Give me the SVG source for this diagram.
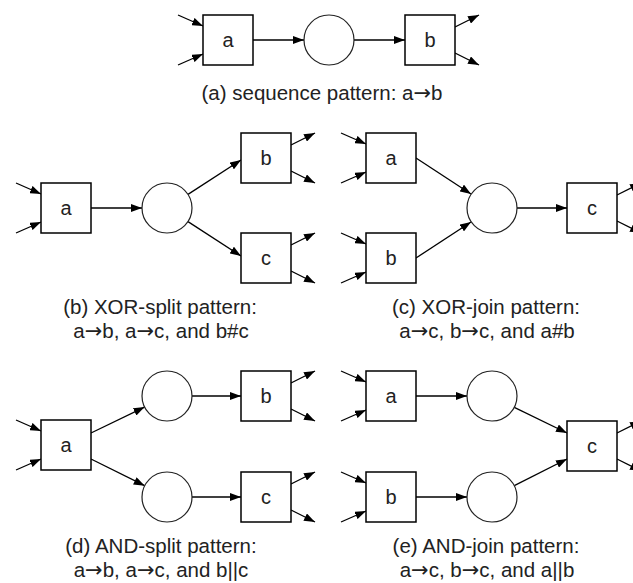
<svg xmlns="http://www.w3.org/2000/svg" width="633" height="583" viewBox="0 0 633 583">
<defs>
<marker id="ah" markerWidth="11" markerHeight="8" refX="11" refY="4" orient="auto" markerUnits="userSpaceOnUse">
<path d="M0,0 L11,4 L0,8 z" fill="#000"/>
</marker>
<style>
.box{fill:#fff;stroke:#000;stroke-width:1.5}
.place{fill:#fff;stroke:#222;stroke-width:1.2}
.lbl{font-family:"Liberation Sans",Arial,sans-serif;font-size:20px;fill:#222;text-anchor:middle}
.cap{font-family:"Liberation Sans",Arial,sans-serif;font-size:20.5px;fill:#222;text-anchor:middle}
.ar{font-family:"DejaVu Sans",sans-serif;font-size:21px}
#connectors line{stroke:#000;stroke-width:1.3;marker-end:url(#ah)}
</style>
</defs>
<rect width="633" height="583" fill="#fff"/>

<g id="connectors">
<!-- (a) -->
<line x1="178" y1="15" x2="203" y2="26"/>
<line x1="178" y1="65" x2="203" y2="54"/>
<line x1="253" y1="40" x2="304" y2="40"/>
<line x1="354" y1="40" x2="405" y2="40"/>
<line x1="455" y1="27" x2="479" y2="15"/>
<line x1="455" y1="53" x2="479" y2="65"/>
<!-- (b) -->
<line x1="16" y1="183" x2="41" y2="194"/>
<line x1="16" y1="233" x2="41" y2="222"/>
<line x1="91" y1="208" x2="142" y2="208"/>
<line x1="188" y1="194.4" x2="241" y2="160"/>
<line x1="188" y1="221.6" x2="241" y2="256"/>
<line x1="291" y1="145" x2="315" y2="133"/>
<line x1="291" y1="171" x2="315" y2="183"/>
<line x1="291" y1="245" x2="315" y2="233"/>
<line x1="291" y1="271" x2="315" y2="283"/>
<!-- (c) -->
<line x1="341" y1="133" x2="366" y2="144"/>
<line x1="341" y1="183" x2="366" y2="172"/>
<line x1="341" y1="233" x2="366" y2="244"/>
<line x1="341" y1="283" x2="366" y2="272"/>
<line x1="416" y1="158" x2="471" y2="194"/>
<line x1="416" y1="258" x2="471" y2="222"/>
<line x1="517" y1="208" x2="567" y2="208"/>
<line x1="617" y1="195" x2="641" y2="183"/>
<line x1="617" y1="221" x2="641" y2="233"/>
<!-- (d) -->
<line x1="16" y1="420" x2="41" y2="431"/>
<line x1="16" y1="470" x2="41" y2="459"/>
<line x1="91" y1="433" x2="144.6" y2="407.1"/>
<line x1="91" y1="459" x2="144.7" y2="485.7"/>
<line x1="192" y1="396" x2="241" y2="396"/>
<line x1="192" y1="497" x2="241" y2="497"/>
<line x1="291" y1="383" x2="315" y2="371"/>
<line x1="291" y1="409" x2="315" y2="421"/>
<line x1="291" y1="484" x2="315" y2="472"/>
<line x1="291" y1="510" x2="315" y2="522"/>
<!-- (e) -->
<line x1="341" y1="371" x2="366" y2="382"/>
<line x1="341" y1="421" x2="366" y2="410"/>
<line x1="341" y1="472" x2="366" y2="483"/>
<line x1="341" y1="522" x2="366" y2="511"/>
<line x1="416" y1="396" x2="467" y2="396"/>
<line x1="416" y1="497" x2="467" y2="497"/>
<line x1="514.3" y1="407.3" x2="567" y2="433"/>
<line x1="514.3" y1="485.7" x2="567" y2="459"/>
<line x1="617" y1="433" x2="641" y2="421"/>
<line x1="617" y1="459" x2="641" y2="471"/>
</g>

<!-- (a) -->
<g id="a-a"><rect class="box" x="203" y="15" width="50" height="50"/><text class="lbl" x="228" y="46.5">a</text></g>
<g id="a-p"><circle class="place" cx="329" cy="40" r="25"/></g>
<g id="a-b"><rect class="box" x="405" y="15" width="50" height="50"/><text class="lbl" x="430" y="46.5">b</text></g>
<text class="cap" x="322" y="100">(a) sequence pattern: a<tspan class="ar">→</tspan>b</text>

<!-- (b) -->
<g id="b-a"><rect class="box" x="41" y="183" width="50" height="50"/><text class="lbl" x="66" y="214.5">a</text></g>
<g id="b-p"><circle class="place" cx="167" cy="208" r="25"/></g>
<g id="b-b"><rect class="box" x="241" y="133" width="50" height="50"/><text class="lbl" x="266" y="164.5">b</text></g>
<g id="b-c"><rect class="box" x="241" y="233" width="50" height="50"/><text class="lbl" x="266" y="264.5">c</text></g>
<text class="cap" x="160" y="314">(b) XOR-split pattern:</text>
<text class="cap" x="161" y="338">a<tspan class="ar">→</tspan>b, a<tspan class="ar">→</tspan>c, and b#c</text>

<!-- (c) -->
<g id="c-a"><rect class="box" x="366" y="133" width="50" height="50"/><text class="lbl" x="391" y="164.5">a</text></g>
<g id="c-b"><rect class="box" x="366" y="233" width="50" height="50"/><text class="lbl" x="391" y="264.5">b</text></g>
<g id="c-p"><circle class="place" cx="492" cy="208" r="25"/></g>
<g id="c-c"><rect class="box" x="567" y="183" width="50" height="50"/><text class="lbl" x="592" y="214.5">c</text></g>
<text class="cap" x="486" y="314">(c) XOR-join pattern:</text>
<text class="cap" x="487" y="338">a<tspan class="ar">→</tspan>c, b<tspan class="ar">→</tspan>c, and a#b</text>

<!-- (d) -->
<g id="d-a"><rect class="box" x="41" y="420" width="50" height="50"/><text class="lbl" x="66" y="451.5">a</text></g>
<g id="d-p1"><circle class="place" cx="167" cy="396" r="25"/></g>
<g id="d-p2"><circle class="place" cx="167" cy="497" r="25"/></g>
<g id="d-b"><rect class="box" x="241" y="371" width="50" height="50"/><text class="lbl" x="266" y="402.5">b</text></g>
<g id="d-c"><rect class="box" x="241" y="472" width="50" height="50"/><text class="lbl" x="266" y="503.5">c</text></g>
<text class="cap" x="161" y="553">(d) AND-split pattern:</text>
<text class="cap" x="161" y="577">a<tspan class="ar">→</tspan>b, a<tspan class="ar">→</tspan>c, and b||c</text>

<!-- (e) -->
<g id="e-a"><rect class="box" x="366" y="371" width="50" height="50"/><text class="lbl" x="391" y="402.5">a</text></g>
<g id="e-b"><rect class="box" x="366" y="472" width="50" height="50"/><text class="lbl" x="391" y="503.5">b</text></g>
<g id="e-p1"><circle class="place" cx="492" cy="396" r="25"/></g>
<g id="e-p2"><circle class="place" cx="492" cy="497" r="25"/></g>
<g id="e-c"><rect class="box" x="567" y="421" width="50" height="50"/><text class="lbl" x="592" y="452.5">c</text></g>
<text class="cap" x="486" y="553">(e) AND-join pattern:</text>
<text class="cap" x="487" y="577">a<tspan class="ar">→</tspan>c, b<tspan class="ar">→</tspan>c, and a||b</text>
</svg>
